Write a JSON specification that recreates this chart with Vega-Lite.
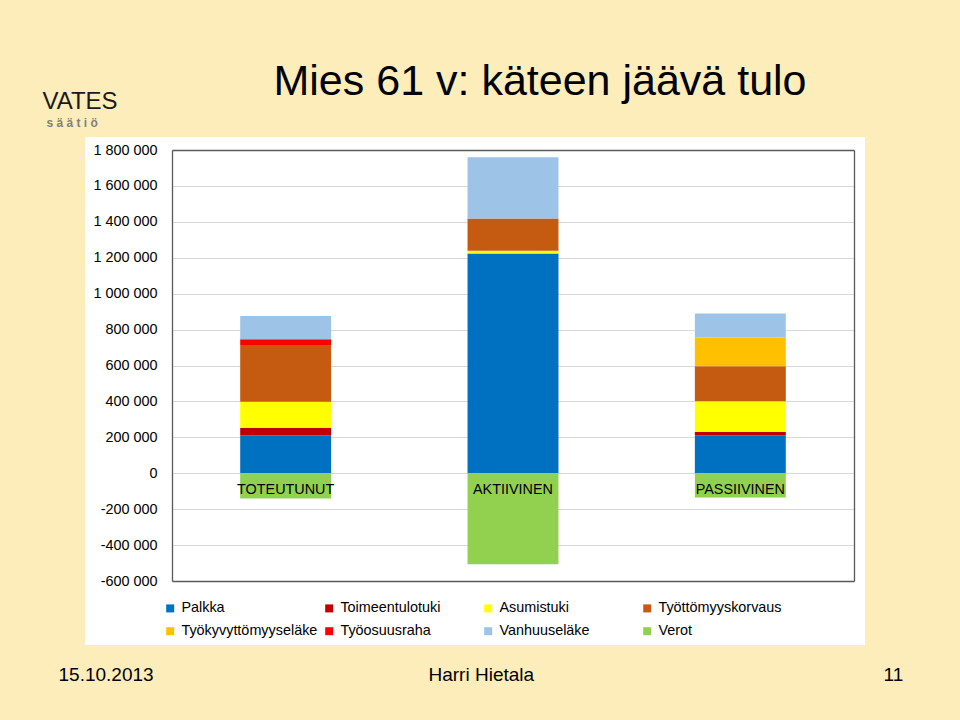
{
  "$schema": "https://vega.github.io/schema/vega-lite/v6.json",
  "width": 780,
  "height": 508,
  "autosize": {"type": "none"},
  "padding": {"left": 85, "top": 137, "right": 95, "bottom": 75},
  "background": "#FCEDBB",
  "view": {"fill": "#FFFFFF", "stroke": null},
  "config": {
    "locale": {"number": {"decimal": ",", "thousands": " ", "grouping": [3], "currency": ["", " €"], "minus": "-"}},
    "font": "Liberation Sans"
  },
  "title": {
    "text": "Mies 61 v: käteen jäävä tulo",
    "font": "Liberation Sans",
    "fontSize": 43,
    "fontWeight": "normal",
    "color": "#000000",
    "anchor": "middle",
    "frame": "group",
    "dx": 65,
    "dy": 15,
    "offset": 0
  },
  "data": {
    "values": [
      {"skenaario": "TOTEUTUNUT", "erä": "Palkka", "n": 1, "euroa": 212000},
      {"skenaario": "TOTEUTUNUT", "erä": "Toimeentulotuki", "n": 2, "euroa": 41000},
      {"skenaario": "TOTEUTUNUT", "erä": "Asumistuki", "n": 3, "euroa": 145000},
      {"skenaario": "TOTEUTUNUT", "erä": "Työttömyyskorvaus", "n": 4, "euroa": 316000},
      {"skenaario": "TOTEUTUNUT", "erä": "Työosuusraha", "n": 6, "euroa": 32000},
      {"skenaario": "TOTEUTUNUT", "erä": "Vanhuuseläke", "n": 7, "euroa": 130000},
      {"skenaario": "TOTEUTUNUT", "erä": "Verot", "n": 8, "euroa": -141000},
      {"skenaario": "AKTIIVINEN", "erä": "Palkka", "n": 1, "euroa": 1224000},
      {"skenaario": "AKTIIVINEN", "erä": "Asumistuki", "n": 3, "euroa": 15000},
      {"skenaario": "AKTIIVINEN", "erä": "Työttömyyskorvaus", "n": 4, "euroa": 180000},
      {"skenaario": "AKTIIVINEN", "erä": "Vanhuuseläke", "n": 7, "euroa": 340000},
      {"skenaario": "AKTIIVINEN", "erä": "Verot", "n": 8, "euroa": -507000},
      {"skenaario": "PASSIIVINEN", "erä": "Palkka", "n": 1, "euroa": 212000},
      {"skenaario": "PASSIIVINEN", "erä": "Toimeentulotuki", "n": 2, "euroa": 18000},
      {"skenaario": "PASSIIVINEN", "erä": "Asumistuki", "n": 3, "euroa": 171000},
      {"skenaario": "PASSIIVINEN", "erä": "Työttömyyskorvaus", "n": 4, "euroa": 195000},
      {"skenaario": "PASSIIVINEN", "erä": "Työkyvyttömyyseläke", "n": 5, "euroa": 160000},
      {"skenaario": "PASSIIVINEN", "erä": "Vanhuuseläke", "n": 7, "euroa": 134000},
      {"skenaario": "PASSIIVINEN", "erä": "Verot", "n": 8, "euroa": -135000}
    ]
  },
  "resolve": {"axis": {"x": "independent", "y": "independent"}},
  "layer": [
    {
      "mark": {"type": "bar"},
      "encoding": {
        "x": {
          "field": "skenaario", "type": "nominal",
          "sort": ["TOTEUTUNUT", "AKTIIVINEN", "PASSIIVINEN"],
          "scale": {"range": [87, 769], "paddingInner": 0.6, "paddingOuter": 0.3},
          "axis": {
            "orient": "bottom", "offset": -172, "zindex": 1,
            "domain": false, "ticks": false, "grid": false,
            "labelAngle": 0, "labelFont": "Liberation Sans", "labelFontSize": 14.4, "labelColor": "#000000", "labelPadding": 9,
            "title": "Harri Hietala", "titleX": 343, "titleY": 207, "titleAlign": "left", "titleBaseline": "alphabetic",
            "titleFont": "Liberation Sans", "titleFontSize": 19, "titleFontWeight": "normal", "titleColor": "#000000"
          }
        },
        "y": {
          "field": "euroa", "type": "quantitative", "stack": "zero",
          "scale": {"domain": [-600000, 1800000], "range": [444, 13], "nice": false, "zero": false},
          "axis": {
            "orient": "left", "offset": -87, "zindex": 0,
            "values": [-600000, -400000, -200000, 0, 200000, 400000, 600000, 800000, 1000000, 1200000, 1400000, 1600000, 1800000],
            "format": ",d",
            "grid": true, "gridColor": "#D9D9D9", "gridWidth": 1,
            "domain": true, "domainColor": "#595959", "domainWidth": 1.3,
            "ticks": false, "labelPadding": 15,
            "labelFont": "Liberation Sans", "labelFontSize": 14.4, "labelColor": "#000000",
            "title": "15.10.2013", "titleAngle": 0, "titleX": -114, "titleY": 543, "titleAlign": "left", "titleBaseline": "alphabetic",
            "titleFont": "Liberation Sans", "titleFontSize": 19, "titleFontWeight": "normal", "titleColor": "#000000"
          }
        },
        "color": {
          "field": "erä", "type": "nominal",
          "scale": {
            "domain": ["Palkka", "Toimeentulotuki", "Asumistuki", "Työttömyyskorvaus", "Työkyvyttömyyseläke", "Työosuusraha", "Vanhuuseläke", "Verot"],
            "range": ["#0070C0", "#C00000", "#FFFF00", "#C55A11", "#FFC000", "#FF0000", "#9DC3E6", "#92D050"]
          },
          "legend": {
            "orient": "none", "legendX": 78, "legendY": 464, "title": null,
            "columns": 4, "direction": "horizontal", "gridAlign": "all",
            "symbolType": "square", "symbolSize": 64, "symbolStrokeWidth": 0,
            "labelFont": "Liberation Sans", "labelFontSize": 14.4, "labelColor": "#000000", "labelOffset": 4, "labelLimit": 300,
            "columnPadding": 4, "rowPadding": 8, "padding": 0
          }
        },
        "order": {"field": "n", "type": "quantitative"}
      }
    },
    {
      "mark": {"type": "point", "opacity": 0},
      "encoding": {
        "x": {
          "field": "skenaario", "type": "nominal",
          "sort": ["TOTEUTUNUT", "AKTIIVINEN", "PASSIIVINEN"],
          "scale": {"range": [87, 769], "paddingInner": 0.6, "paddingOuter": 0.3},
          "axis": {
            "orient": "top", "offset": -13, "zindex": 1,
            "labels": false, "ticks": false, "grid": false,
            "domain": true, "domainColor": "#595959", "domainWidth": 1.3,
            "title": "VATES", "titleX": -43, "titleY": -42, "titleAlign": "left", "titleBaseline": "alphabetic",
            "titleFont": "Liberation Sans", "titleFontSize": 24, "titleFontWeight": "normal", "titleColor": "#1A1A1A"
          }
        },
        "y": {
          "field": "euroa", "type": "quantitative",
          "scale": {"domain": [-600000, 1800000], "range": [444, 13], "nice": false, "zero": false},
          "axis": {
            "orient": "right", "offset": -11, "zindex": 1,
            "labels": false, "ticks": false, "grid": false,
            "domain": true, "domainColor": "#595959", "domainWidth": 1.3,
            "title": "11", "titleAngle": 0, "titleX": 29, "titleY": 543, "titleAlign": "left", "titleBaseline": "alphabetic",
            "titleFont": "Liberation Sans", "titleFontSize": 19, "titleFontWeight": "normal", "titleColor": "#000000"
          }
        }
      }
    },
    {
      "mark": {"type": "point", "opacity": 0},
      "encoding": {
        "x": {
          "field": "skenaario", "type": "nominal",
          "sort": ["TOTEUTUNUT", "AKTIIVINEN", "PASSIIVINEN"],
          "scale": {"range": [87, 769], "paddingInner": 0.6, "paddingOuter": 0.3},
          "axis": {
            "orient": "bottom", "offset": -64, "zindex": 1,
            "labels": false, "ticks": false, "grid": false,
            "domain": true, "domainColor": "#595959", "domainWidth": 1.3,
            "title": "s ä ä t i ö", "titleX": -39, "titleY": -455, "titleAlign": "left", "titleBaseline": "alphabetic",
            "titleFont": "Liberation Sans", "titleFontSize": 12, "titleFontWeight": "bold", "titleColor": "#7F7F7F"
          }
        },
        "y": {
          "field": "euroa", "type": "quantitative",
          "scale": {"domain": [-600000, 1800000], "range": [444, 13], "nice": false, "zero": false},
          "axis": null
        }
      }
    }
  ]
}
